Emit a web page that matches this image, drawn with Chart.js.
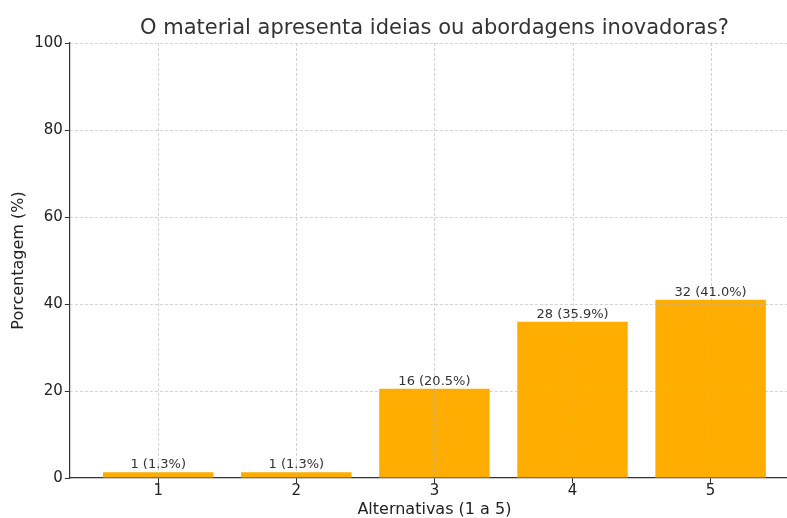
<!DOCTYPE html>
<html>
<head>
<meta charset="utf-8">
<script src="https://cdn.jsdelivr.net/npm/chart.js@4.4.0/dist/chart.umd.min.js"></script>
<style>
  html, body { margin: 0; padding: 0; background: #fff; overflow: hidden; }
  #wrap { width: 787px; height: 518px; overflow: hidden; }
  #box { width: 799px; height: 518px; }
</style>
</head>
<body>
<div id="wrap"><div id="box"><canvas id="chart"></canvas></div></div>
<script>
const categories = [1, 2, 3, 4, 5];
const counts = [1, 1, 16, 28, 32];
const percents = [1.3, 1.3, 20.5, 35.9, 41.0];
const yTicks = [0, 20, 40, 60, 80, 100];
const titleText = 'O material apresenta ideias ou abordagens inovadoras?';

const FONT = "'DejaVu Sans', sans-serif";

// matplotlib draws the grid above the bars, so we do the same
const gridOnTop = {
  id: 'gridOnTop',
  afterDatasetsDraw(chart) {
    const { ctx, chartArea: a, scales: { x, y } } = chart;
    ctx.save();
    ctx.strokeStyle = 'rgba(176,176,176,0.7)';
    ctx.lineWidth = 0.8;
    ctx.setLineDash([3, 2]);
    yTicks.forEach(v => {
      if (v === 0) return;
      const py = Math.round(y.getPixelForValue(v)) + 0.5;
      ctx.beginPath(); ctx.moveTo(a.left, py); ctx.lineTo(a.right, py); ctx.stroke();
    });
    categories.forEach(v => {
      const px = Math.round(x.getPixelForValue(v)) + 0.5;
      ctx.beginPath(); ctx.moveTo(px, a.top); ctx.lineTo(px, a.bottom); ctx.stroke();
    });
    ctx.restore();
  }
};

const barLabels = {
  id: 'barLabels',
  afterDatasetsDraw(chart) {
    const { ctx } = chart;
    const meta = chart.getDatasetMeta(0);
    ctx.save();
    ctx.font = '13px ' + FONT;
    ctx.fillStyle = '#333';
    ctx.textAlign = 'center';
    ctx.textBaseline = 'alphabetic';
    meta.data.forEach((bar, i) => {
      ctx.fillText(`${counts[i]} (${percents[i].toFixed(1)}%)`, bar.x, bar.y - 4);
    });
    ctx.restore();
  }
};

// title centred over the axes, like matplotlib
const axesTitle = {
  id: 'axesTitle',
  afterDraw(chart) {
    const { ctx, chartArea: a } = chart;
    ctx.save();
    ctx.font = '21px ' + FONT;
    ctx.fillStyle = '#333';
    ctx.textAlign = 'center';
    ctx.textBaseline = 'middle';
    ctx.fillText(titleText, (a.left + a.right) / 2, 29);
    ctx.restore();
  }
};

new Chart(document.getElementById('chart'), {
  type: 'bar',
  data: {
    datasets: [{
      data: categories.map((c, i) => ({ x: c, y: percents[i] })),
      backgroundColor: '#FFAE00',
      barPercentage: 0.8,
      categoryPercentage: 1.0
    }]
  },
  options: {
    responsive: true,
    maintainAspectRatio: false,
    animation: false,
    layout: { padding: { top: 43, right: 0, left: 9, bottom: 0 } },
    plugins: {
      legend: { display: false },
      tooltip: { enabled: false },
      title: { display: false }
    },
    scales: {
      x: {
        type: 'linear',
        offset: false,
        min: 0.36,
        max: 5.64,
        afterBuildTicks: s => { s.ticks = categories.map(v => ({ value: v })); },
        grid: { offset: false, drawOnChartArea: false, tickColor: '#333', tickLength: 5 },
        border: { color: '#333', width: 1.2 },
        ticks: { color: '#222', font: { family: FONT, size: 15, lineHeight: 1.0 }, padding: 1 },
        title: {
          display: true, text: 'Alternativas (1 a 5)', color: '#222',
          font: { family: FONT, size: 16, lineHeight: 1.0 }, padding: { top: 2, bottom: 0 }
        }
      },
      y: {
        min: 0,
        max: 100,
        afterBuildTicks: s => { s.ticks = yTicks.map(v => ({ value: v })); },
        grid: { drawOnChartArea: false, tickColor: '#333', tickLength: 5 },
        border: { color: '#333', width: 1.2 },
        ticks: { color: '#222', font: { family: FONT, size: 15 }, padding: 2 },
        title: {
          display: true, text: 'Porcentagem (%)', color: '#222',
          font: { family: FONT, size: 16 }, padding: { top: 0, bottom: 4 }
        }
      }
    }
  },
  plugins: [gridOnTop, barLabels, axesTitle]
});
</script>
</body>
</html>
